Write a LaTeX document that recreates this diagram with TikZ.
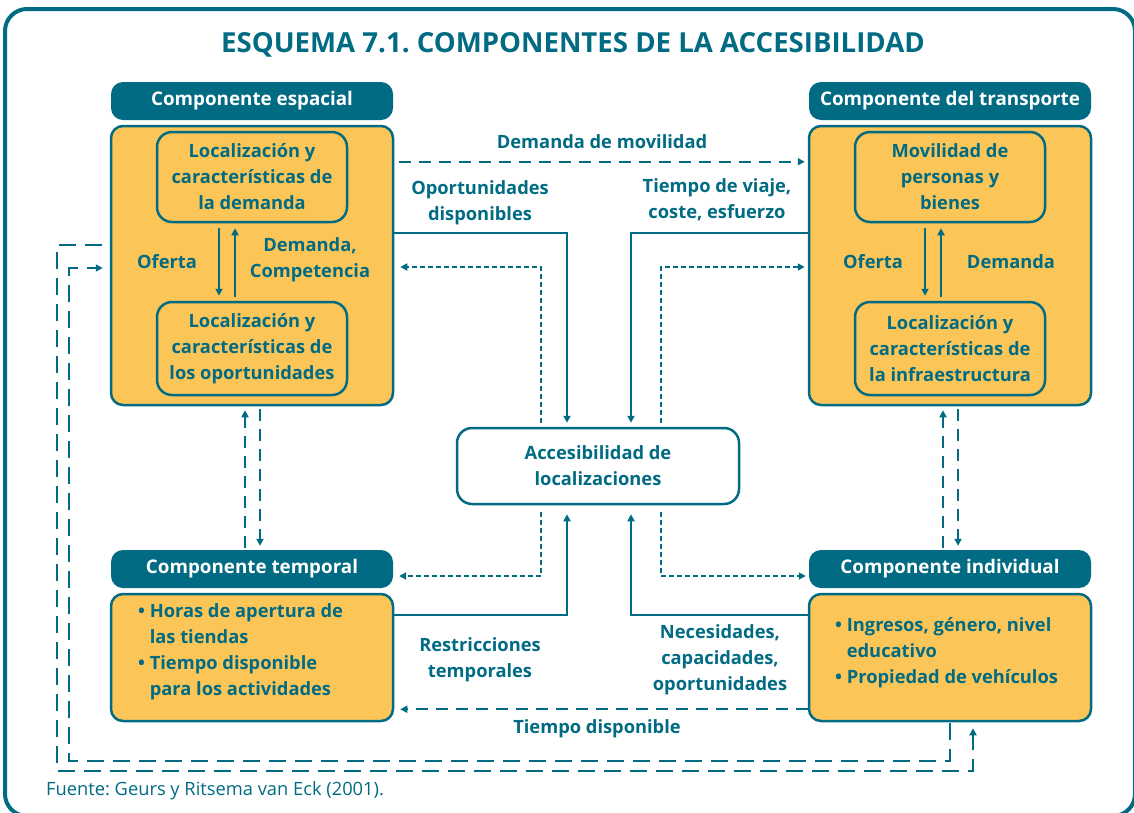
\documentclass[tikz,border=0pt]{standalone}
\usepackage{fontspec}
\setmainfont{Open Sans}
\usetikzlibrary{calc,arrows.meta}
\definecolor{teal}{HTML}{006B82}
\definecolor{orng}{HTML}{FCC557}
\frenchspacing
\begin{document}
\begin{tikzpicture}[x=1pt,y=-1pt,
  tip/.style={-{Triangle[length=7pt,width=7pt]}},
  hdr/.style={fill=teal,rounded corners=12pt,text=white,minimum width=282pt,minimum height=38pt,inner sep=0pt,font=\bfseries\fontsize{18.8}{22}\selectfont},
  obox/.style={fill=orng,draw=teal,line width=2.5pt,rounded corners=12pt,minimum width=282pt,inner sep=0pt},
  ibox/.style={fill=orng,draw=teal,line width=2.5pt,rounded corners=15pt,minimum width=190pt,inner sep=0pt,align=center,text=teal,font=\bfseries\fontsize{18.3}{26}\selectfont},
  lbl/.style={text=teal,align=center,inner sep=0pt,font=\bfseries\fontsize{18.3}{26}\selectfont},
  conn/.style={draw=teal,line width=2pt},
  dashA/.style={conn,dash pattern=on 12pt off 8pt},
  dashS/.style={conn,dash pattern=on 5pt off 3pt},
  dashL/.style={conn,dash pattern=on 17pt off 9pt}
]
\useasboundingbox (0,0) rectangle (1134,812);
% frame
\draw[teal,line width=4pt,rounded corners=22pt] (5,9) rectangle (1135,816);
\node[text=teal,font=\bfseries\fontsize{27.6}{32}\selectfont,inner sep=0pt] (title) at (573,45) {ESQUEMA 7.1. COMPONENTES DE LA ACCESIBILIDAD};

% spatial
\node[hdr] (sh) at (252,101) {Componente espacial};
\node[obox,minimum height=279pt] (sb) at (252,265.5) {};
\node[ibox,minimum height=90pt] (s1) at (252,177) {Localización y\\características de\\la demanda};
\node[ibox,minimum height=93pt] (s2) at (252,348.5) {Localización y\\características de\\los oportunidades};
\draw[conn,tip] ($(s1.south)+(-33,5)$) -- ($(s2.north)+(-33,-5)$);
\draw[conn,tip] ($(s2.north)+(-17,-4)$) -- ($(s1.south)+(-17,5)$);
\node[lbl] (of1) at (167,262) {Oferta};
\node[lbl] (dc1) at (310,260) {Demanda,\\Competencia};

% transport
\node[hdr] (th) at (950,101) {Componente del transporte};
\node[obox,minimum height=279pt] (tb) at (950,265.5) {};
\node[ibox,minimum height=90pt] (t1) at (950,177) {Movilidad de\\personas y\\bienes};
\node[ibox,minimum height=93pt] (t2) at (950,348.5) {Localización y\\características de\\la infraestructura};
\draw[conn,tip] ($(t1.south)+(-25,5)$) -- ($(t2.north)+(-25,-5)$);
\draw[conn,tip] ($(t2.north)+(-9,-4)$) -- ($(t1.south)+(-9,5)$);
\node[lbl] (of2) at (873,262) {Oferta};
\node[lbl] (dm2) at (1011,262) {Demanda};

% center
\node[draw=teal,line width=2.5pt,fill=white,rounded corners=15pt,minimum width=282pt,minimum height=76pt,inner sep=0pt,align=center,text=teal,font=\bfseries\fontsize{18.3}{26}\selectfont] (cb) at (598,466) {Accesibilidad de\\localizaciones};

% temporal
\node[hdr] (ph) at (252,569) {Componente temporal};
\node[obox,minimum height=127pt] (pb) at (252,657.5) {};
\node[lbl,align=left,anchor=north west] (ptx) at (138,603) {\textbullet\ Horas de apertura de\\\phantom{\textbullet\ }las tiendas\\\textbullet\ Tiempo disponible\\\phantom{\textbullet\ }para los actividades};

% individual
\node[hdr] (ih) at (950,569) {Componente individual};
\node[obox,minimum height=127pt] (ib) at (950,657.5) {};
\node[lbl,align=left,anchor=north west] (itx) at (835,617) {\textbullet\ Ingresos, género, nivel\\\phantom{\textbullet\ }educativo\\\textbullet\ Propiedad de vehículos};

% connectors top
\draw[dashA,tip] ($(sb.north east)+(5,37)$) -- ($(tb.north west)+(-3,37)$);
\node[lbl] (ldm) at (602,142) {Demanda de movilidad};
\draw[conn,tip] ($(sb.north east)+(0,108)$) -| ($(cb.north)+(-31,-4)$);
\node[lbl] (lop) at (480,203) {Oportunidades\\disponibles};
\draw[conn,tip] ($(tb.north west)+(0,108)$) -| ($(cb.north)+(33,-4)$);
\node[lbl] (ltv) at (717,200) {Tiempo de viaje,\\coste, esfuerzo};
\draw[dashS,tip] ($(cb.north)+(-57,-4)$) |- ($(sb.east)+(6,1.5)$);
\draw[dashS,tip] ($(cb.north)+(63,-4)$) |- ($(tb.west)+(-3,1.5)$);

% connectors bottom
\draw[dashS,tip] ($(cb.south)+(-57,7)$) |- ($(ph.east)+(6,7)$);
\draw[dashS,tip] ($(cb.south)+(63,7)$) |- ($(ih.west)+(-3,7)$);
\draw[conn,tip] ($(pb.north east)+(0,22)$) -| ($(cb.south)+(-31,9)$);
\node[lbl] (lrt) at (480,660) {Restricciones\\temporales};
\draw[conn,tip] ($(ib.north west)+(0,22)$) -| ($(cb.south)+(33,9)$);
\node[lbl] (lnc) at (720,660) {Necesidades,\\capacidades,\\oportunidades};
\draw[dashA,tip] ($(ib.south west)+(0,-13)$) -- ($(pb.south east)+(6,-13)$);
\node[lbl] (ltd) at (597,729) {Tiempo disponible};

% vertical pairs
\draw[dashA,tip] ($(ph.north)+(-7,-2)$) -- ($(sb.south)+(-7,4)$);
\draw[dashA,tip] ($(sb.south)+(8,3)$) -- ($(ph.north)+(8,-4)$);
\draw[dashA,tip] ($(ih.north)+(-7,-2)$) -- ($(tb.south)+(-7,4)$);
\draw[dashA,tip] ($(tb.south)+(8,3)$) -- ($(ih.north)+(8,-4)$);

% outer loops
\draw[dashL,tip] ($(sb.west)+(-8,-20.5)$) -| (57,771) -| ($(ib.south)+(23,6)$);
\draw[dashL,tip] ($(ib.south)+(0,1)$) |- (69,761) |- ($(sb.west)+(-7,2.5)$);

\node[text=teal,anchor=west,inner sep=0pt,font=\fontsize{18.3}{22}\selectfont] (src) at (46,791) {Fuente: Geurs y Ritsema van Eck (2001).};
\end{tikzpicture}
\end{document}
